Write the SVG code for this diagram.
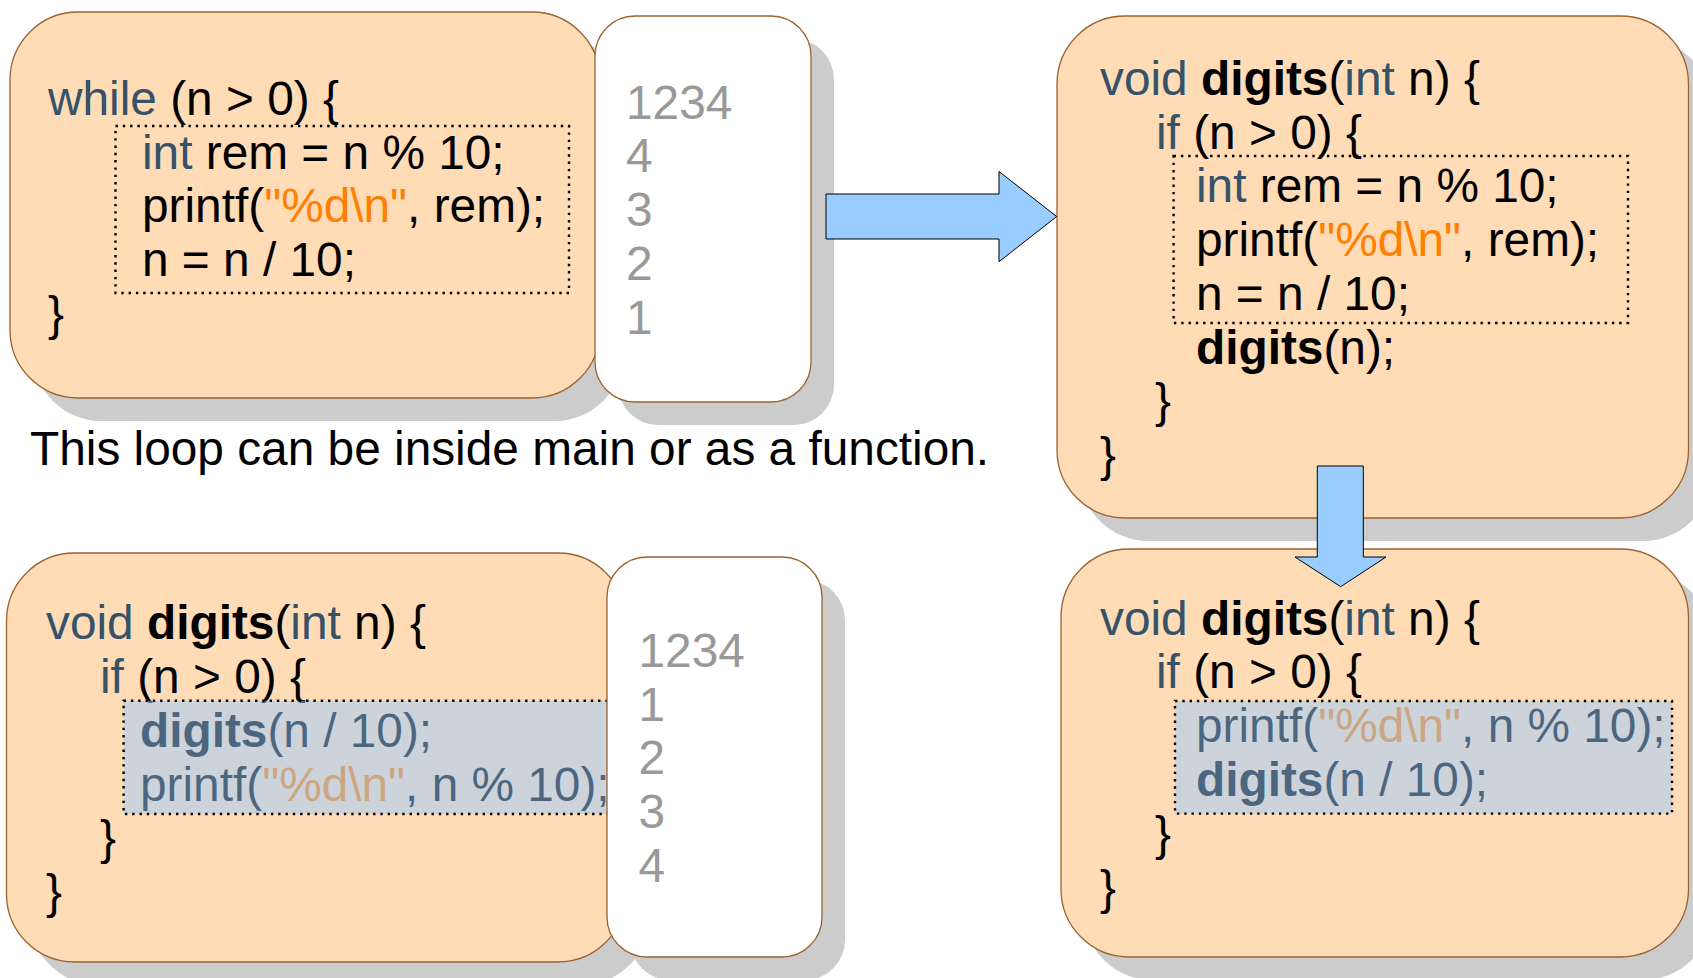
<svg xmlns="http://www.w3.org/2000/svg" width="1693" height="978" viewBox="0 0 1693 978">
<style>
text{font-family:"Liberation Sans",Arial,sans-serif;font-size:47.8px;fill:#000}
.kw{fill:#355269}
.str{fill:#ff8000}
.b{font-weight:bold}
.num{fill:#999999}
.box{fill:#ffdbb6;stroke:#9a6330;stroke-width:1.3}
.out{fill:#ffffff;stroke:#9a6330;stroke-width:1.3}
.shadow{fill:#cccccc}
.dot{fill:none;stroke:#000;stroke-width:2.4;stroke-dasharray:2.4 4.9}
.hl{fill:#99ccff;fill-opacity:0.5;stroke:#000;stroke-width:2.4;stroke-dasharray:2.4 4.9}
.arrow{fill:#99ccff;stroke:#000;stroke-width:1}
</style>
<rect width="1693" height="978" fill="#ffffff"/>

<g id="loop-box">
<rect class="shadow" x="33" y="35" width="590" height="386" rx="68"/>
<rect class="box" x="10" y="12" width="590" height="386" rx="68"/>
<text x="48" y="115"><tspan class="kw">while</tspan> (n &gt; 0) {</text>
<text x="142" y="169"><tspan class="kw">int</tspan> rem = n % 10;</text>
<text x="142" y="222">printf(<tspan class="str">"%d\n"</tspan>, rem);</text>
<text x="142" y="276">n = n / 10;</text>
<text x="48" y="330">}</text>
<rect class="dot" x="115.5" y="126" width="453.5" height="167"/>
</g>

<g id="loop-output">
<rect class="shadow" x="618" y="39" width="216" height="386" rx="40"/>
<rect class="out" x="595" y="16" width="216" height="386" rx="40"/>
<text class="num" x="626" y="118.5">1234</text>
<text class="num" x="626" y="172">4</text>
<text class="num" x="626" y="226">3</text>
<text class="num" x="626" y="280">2</text>
<text class="num" x="626" y="333.5">1</text>
</g>

<g id="caption">
<text x="30" y="465">This loop can be inside main or as a function.</text>
</g>

<g id="recursive-box">
<rect class="shadow" x="30" y="576" width="619.5" height="409" rx="68"/>
<rect class="box" x="6.5" y="553" width="619.5" height="409" rx="68"/>
<text x="46" y="639"><tspan class="kw">void</tspan> <tspan class="b">digits</tspan>(<tspan class="kw">int</tspan> n) {</text>
<text x="100" y="693"><tspan class="kw">if</tspan> (n &gt; 0) {</text>
<text x="140" y="747"><tspan class="b">digits</tspan>(n / 10);</text>
<text x="140" y="800.5">printf(<tspan class="str">"%d\n"</tspan>, n % 10);</text>
<text x="100" y="854">}</text>
<text x="46" y="908">}</text>
<rect class="hl" x="123.6" y="700.7" width="500" height="113.3"/>
</g>

<g id="recursive-output">
<rect class="shadow" x="630" y="580" width="215" height="400" rx="40"/>
<rect class="out" x="607" y="557" width="215" height="400" rx="40"/>
<text class="num" x="638.5" y="667">1234</text>
<text class="num" x="638.5" y="720.6">1</text>
<text class="num" x="638.5" y="774">2</text>
<text class="num" x="638.5" y="828">3</text>
<text class="num" x="638.5" y="881.5">4</text>
</g>

<g id="function-box">
<rect class="shadow" x="1080" y="39" width="631.5" height="502" rx="68"/>
<rect class="box" x="1057" y="16" width="631.5" height="502" rx="68"/>
<text x="1100" y="95"><tspan class="kw">void</tspan> <tspan class="b">digits</tspan>(<tspan class="kw">int</tspan> n) {</text>
<text x="1156" y="148.7"><tspan class="kw">if</tspan> (n &gt; 0) {</text>
<text x="1196" y="202.4"><tspan class="kw">int</tspan> rem = n % 10;</text>
<text x="1196" y="256.1">printf(<tspan class="str">"%d\n"</tspan>, rem);</text>
<text x="1196" y="309.8">n = n / 10;</text>
<text x="1196" y="363.5"><tspan class="b">digits</tspan>(n);</text>
<text x="1155" y="417.2">}</text>
<text x="1100" y="470.9">}</text>
<rect class="dot" x="1173.6" y="156" width="454.4" height="167"/>
</g>

<g id="reversed-box">
<rect class="shadow" x="1084" y="572" width="627.5" height="408" rx="68"/>
<rect class="box" x="1061" y="549" width="627.5" height="408" rx="68"/>
<text x="1100" y="634.5"><tspan class="kw">void</tspan> <tspan class="b">digits</tspan>(<tspan class="kw">int</tspan> n) {</text>
<text x="1156" y="688.3"><tspan class="kw">if</tspan> (n &gt; 0) {</text>
<text x="1196" y="742.1">printf(<tspan class="str">"%d\n"</tspan>, n % 10);</text>
<text x="1196" y="795.9"><tspan class="b">digits</tspan>(n / 10);</text>
<text x="1155" y="849.7">}</text>
<text x="1100" y="903.5">}</text>
<rect class="hl" x="1175" y="701" width="497" height="112.6"/>
</g>

<g id="connectors">
<polygon class="arrow" points="826,194 999,194 999,171.5 1056.7,216.5 999,261.7 999,239 826,239"/>
<polygon class="arrow" points="1317.3,466 1363.3,466 1363.3,557 1386,557 1340.7,586.7 1295,557 1317.3,557"/>
</g>
</svg>
